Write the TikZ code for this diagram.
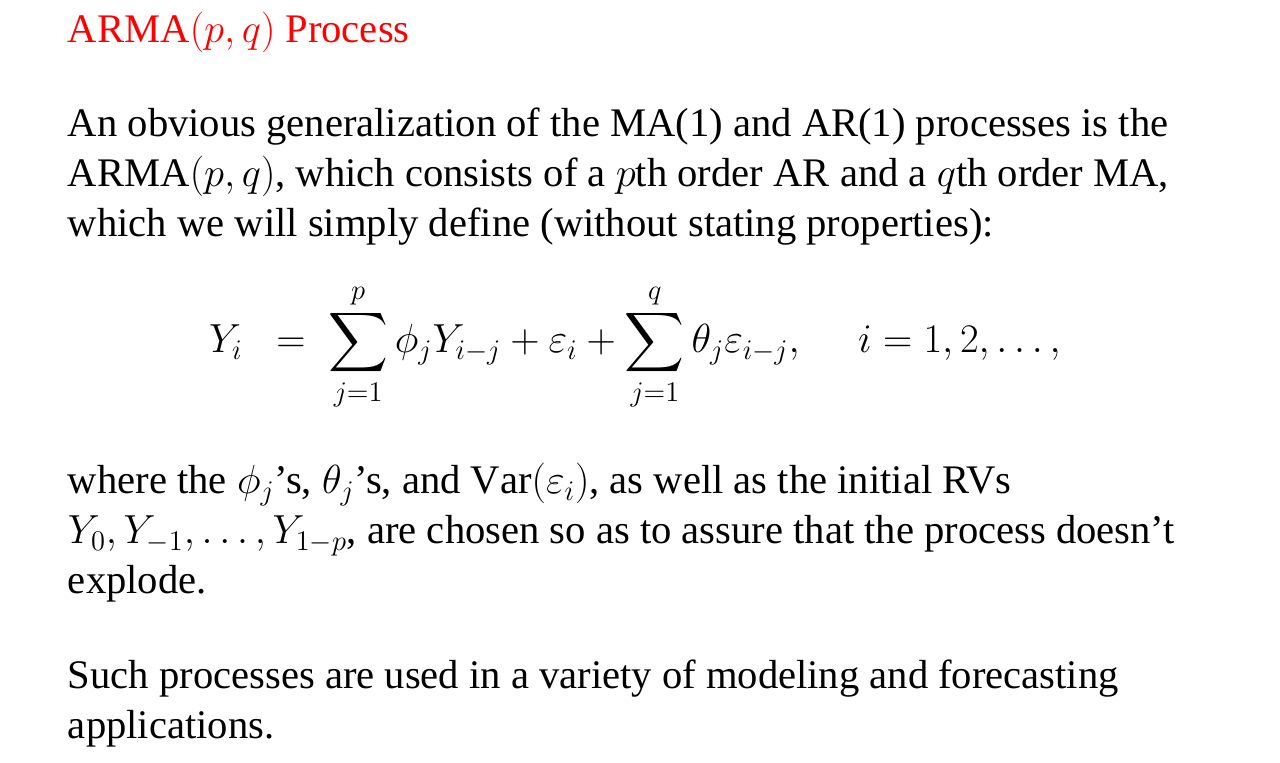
\documentclass[tikz,border=0pt]{standalone}
\usepackage{fix-cm}
\usepackage{amsmath}
\usepackage{exscale}
\usepackage{fontspec}
\setmainfont{Liberation Serif}
\begin{document}
\begin{tikzpicture}[x=0.5pt,y=-0.5pt,
  every node/.style={inner sep=0pt,outer sep=0pt,anchor=base west,font=\fontsize{20.3}{25}\selectfont}]
  \useasboundingbox (0,0) rectangle (1280,763);
  % Title
  \node[red] (T)  at (68,43)  {ARMA$(p,q)$ Process};
  % First paragraph
  \node      (L1) at (68,137) {An obvious generalization of the MA(1) and AR(1) processes is the};
  \node      (L2) at (68,187) {ARMA$(p,q)$, which consists of a $p$th order AR and a $q$th order MA,};
  \node      (L3) at (68,237) {which we will simply define (without stating properties):};
  % Display equation
  \node[anchor=base] (EQ) at (635,353)
  {$\displaystyle Y_i \;\;=\; \sum_{j=1}^{p}\phi_jY_{i-j}+\varepsilon_i+\sum_{j=1}^{q}\theta_j\varepsilon_{i-j},\quad\; i=1,2,\ldots,$};
  % Second paragraph
  \node      (L4) at (68,494) {where the $\phi_j$’s, $\theta_j$’s, and $\mathrm{Var}(\varepsilon_i)$, as well as the initial RVs};
  \node      (L5) at (68,544) {$Y_0,Y_{-1},\ldots,Y_{1-p}$, are chosen so as to assure that the process doesn’t};
  \node      (L6) at (68,594) {explode.};
  % Last paragraph
  \node      (L7) at (68,689) {Such processes are used in a variety of modeling and forecasting};
  \node      (L8) at (68,739) {applications.};
\end{tikzpicture}
\end{document}
